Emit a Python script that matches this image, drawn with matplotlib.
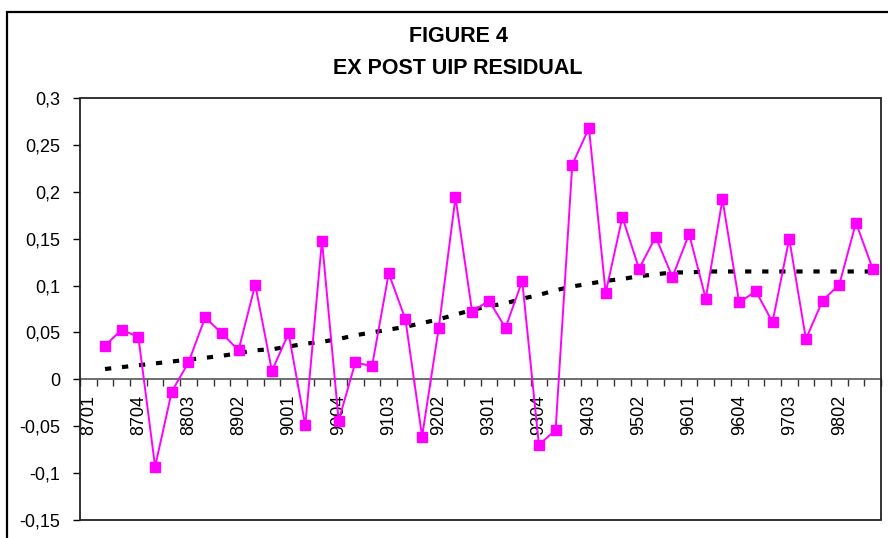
import matplotlib; matplotlib.use("Agg"); import matplotlib.pyplot as plt
import numpy as np
from matplotlib.patches import Rectangle

plt.rcParams["font.family"] = ["Liberation Sans", "DejaVu Sans"]

# quarterly categories 8701..9804 (8701 has no observation)
quarters = [f"{y}{q:02d}" for y in range(87, 99) for q in range(1, 5)]
label_every = 3

# ex post UIP residual, 8702..9804
residual = [0.036, 0.053, 0.045, -0.093, -0.013, 0.018, 0.066, 0.049, 0.031, 0.101,
            0.009, 0.049, -0.049, 0.148, -0.044, 0.018, 0.014, 0.113, 0.064, -0.061,
            0.055, 0.194, 0.072, 0.084, 0.055, 0.105, -0.070, -0.054, 0.229, 0.268,
            0.092, 0.173, 0.118, 0.152, 0.109, 0.155, 0.086, 0.192, 0.082, 0.094,
            0.061, 0.150, 0.043, 0.084, 0.101, 0.167, 0.118]
# polynomial trend line as drawn
trend = [0.011, 0.013, 0.015, 0.017, 0.019, 0.021, 0.023, 0.025, 0.028, 0.031,
         0.032, 0.035, 0.038, 0.040, 0.043, 0.047, 0.050, 0.053, 0.056, 0.060,
         0.064, 0.069, 0.074, 0.078, 0.081, 0.086, 0.090, 0.095, 0.099, 0.102,
         0.105, 0.107, 0.110, 0.112, 0.114, 0.114, 0.115, 0.115, 0.115, 0.115,
         0.115, 0.115, 0.115, 0.115, 0.115, 0.115, 0.115]

yticks = [0.3, 0.25, 0.2, 0.15, 0.1, 0.05, 0, -0.05, -0.1, -0.15]
ytick_labels = ["0,3", "0,25", "0,2", "0,15", "0,1", "0,05", "0", "-0,05", "-0,1", "-0,15"]

W, H = 888, 538
fig = plt.figure(figsize=(W / 100, H / 100), dpi=100)

# outer chart border (cut off on right and bottom)
fig.patches.append(Rectangle((7 / W, -0.2), 2, 1 - 11.5 / H + 0.2, transform=fig.transFigure,
                             fill=False, lw=1.6, ec="black"))

ax = fig.add_axes([80 / W, 1 - 520 / H, 801 / W, 422 / H])
x = np.arange(1, len(quarters))

ax.plot(x, trend, color="black", lw=3.0, ls=(0, (1.5, 2.6)), dash_capstyle="butt", zorder=2)
ax.plot(x, residual, color="#FF00FF", lw=1.4, marker="s", ms=7,
        mfc="#FF00FF", mec="#FF00FF", zorder=3)

ax.set_xlim(-0.5, len(quarters) - 0.5)
ax.set_ylim(-0.15, 0.3)

for s in ["top", "right", "left"]:
    ax.spines[s].set_visible(False)
ax.spines["bottom"].set_position(("data", 0))
ax.spines["bottom"].set_color("#555555")
ax.spines["bottom"].set_linewidth(1.2)
ax.add_patch(Rectangle((0, 0), 1, 1, transform=ax.transAxes, fill=False,
                       lw=1.3, ec="#222222", clip_on=False, zorder=4))

ax.set_yticks(yticks)
ax.set_yticklabels(ytick_labels, fontsize=13)
ax.tick_params(axis="y", direction="out", length=5, width=1, pad=9)

pos = list(range(0, len(quarters), label_every))
ax.set_xticks(pos)
ax.set_xticklabels([quarters[i] for i in pos], rotation=90, fontsize=13)
ax.set_xticks(np.arange(-0.5, len(quarters)), minor=True)
ax.tick_params(axis="x", which="major", length=0, pad=11)
ax.tick_params(axis="x", which="minor", direction="out", length=5, width=1, color="#333333")

fig.text(458 / W, 1 - 37 / H, "FIGURE 4", ha="center", va="center",
         fontsize=15.5, fontweight="bold")
fig.text(458 / W, 1 - 68 / H, "EX POST UIP RESIDUAL", ha="center", va="center",
         fontsize=15.5, fontweight="bold")

fig.savefig("out.png", dpi=100)
